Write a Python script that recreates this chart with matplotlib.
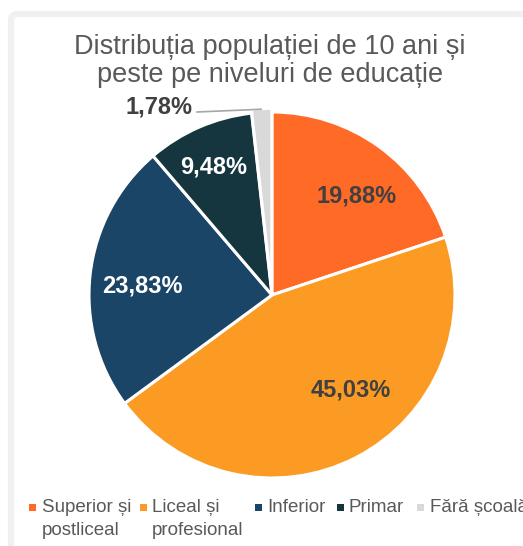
import matplotlib.pyplot as plt
from matplotlib.patches import FancyBboxPatch, Rectangle

plt.rcParams['font.family'] = ['Liberation Sans', 'DejaVu Sans']

# data
labels = ['Superior și\npostliceal', 'Liceal și\nprofesional', 'Inferior', 'Primar', 'Fără școală']
values = [19.88, 45.03, 23.83, 9.48, 1.78]
colors = ['#FF6A26', '#FC9B24', '#1B4567', '#15353F', '#D9D9D9']
pct_text = ['19,88%', '45,03%', '23,83%', '9,48%', '1,78%']
text_colors = ['#404040', '#404040', 'white', 'white', '#404040']

W, H = 523, 546
fig = plt.figure(figsize=(W / 100, H / 100), dpi=100)

# light gray chart frame
frame = FancyBboxPatch((11 / W, -0.1), 1.2, (H - 14) / H + 0.1,
                       boxstyle='round,pad=0,rounding_size=0.012',
                       transform=fig.transFigure, fill=False,
                       edgecolor='#F0F0F0', linewidth=4.5, zorder=0)
fig.patches.append(frame)

fig.text(270 / W, 1 - 61 / H, 'Distribuția populației de 10 ani și\npeste pe niveluri de educație',
         ha='center', va='center', fontsize=19.5, color='#595959', linespacing=1.1)

# pie axes: center (272, 295), radius 183 px
cx, cy, r = 272, 295, 183
ax = fig.add_axes([(cx - r) / W, 1 - (cy + r) / H, 2 * r / W, 2 * r / H])
wedges, _ = ax.pie(values, colors=colors, startangle=90, counterclock=False,
                   explode=[0, 0, 0, 0, 0.02],
                   wedgeprops=dict(edgecolor='white', linewidth=2.2))
ax.set_xlim(-1, 1)
ax.set_ylim(-1, 1)
ax.set_aspect('equal')
ax.axis('off')

# label positions in axes data units
label_pos = [(0.46, 0.54), (0.43, -0.52), (-0.71, 0.05), (-0.32, 0.70), (-0.62, 1.03)]
for (x, y), t, c in zip(label_pos, pct_text, text_colors):
    ax.text(x, y, t, ha='center', va='center', fontsize=17, fontweight='bold',
            color=c, clip_on=False)

# leader line for the small slice
ax.plot([-0.41, -0.06], [1.0, 1.015], color='#A6A6A6', linewidth=1.2, clip_on=False)

# legend drawn by hand
leg_x = [33, 143, 258, 340, 421]
leg_y = 1 - 507 / H
for lx, lab, col in zip(leg_x, labels, colors):
    fig.patches.append(Rectangle((lx / W - 3.5 / W, leg_y - 3.5 / H), 7 / W, 7 / H,
                                 transform=fig.transFigure, facecolor=col,
                                 edgecolor='none'))
    fig.text((lx + 9) / W, leg_y + 8 / H, lab, ha='left', va='top', fontsize=13.5,
             color='#595959', linespacing=1.45)

fig.savefig('out.png', dpi=100)
